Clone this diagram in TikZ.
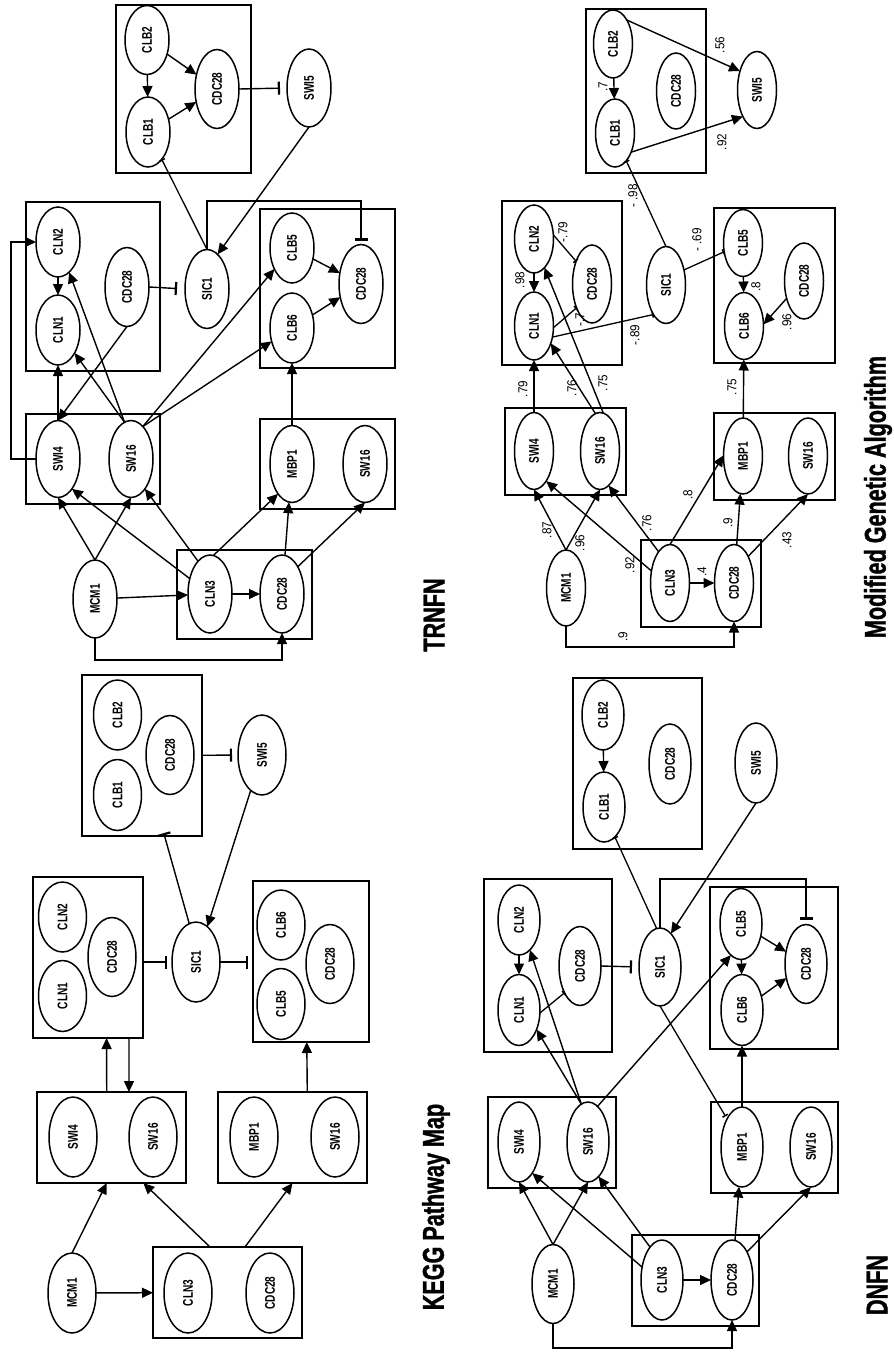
\documentclass[tikz,border=0pt]{standalone}
\usepackage{fontspec}
\setmainfont{Liberation Sans}
\newfontfamily\genefont[FakeStretch=0.72]{Liberation Sans}
\newfontfamily\titlefont[FakeStretch=0.72,FakeBold=1.2]{Liberation Sans}
\newfontfamily\weightfont[FakeStretch=0.9]{Liberation Sans}
\usetikzlibrary{arrows.meta,shapes.geometric}

\begin{document}
\begin{tikzpicture}[x=1pt,y=-1pt,
  gene/.style 2 args={draw,ellipse,line width=1.5pt,minimum width=#1pt,minimum height=#2pt,inner sep=0pt,outer sep=0pt,font=\genefont\bfseries\fontsize{14}{14}\selectfont},
  grp/.style 2 args={draw,rectangle,line width=1.5pt,minimum width=#1pt,minimum height=#2pt,inner sep=0pt,outer sep=0pt},
  act/.style={line width=1.4pt,-{Triangle[length=11pt,width=10pt]}},
  inh/.style={line width=1.4pt,-{Bar[width=13pt,line width=2.2pt]}},
  inhs/.style={line width=1.3pt,-{Bar[width=6pt,line width=1.5pt]}},
  wt/.style={rotate=90,inner sep=0pt,font=\weightfont\fontsize{13}{13}\selectfont},
  ttl/.style={rotate=90,inner sep=0pt,font=\titlefont\bfseries\fontsize{30}{30}\selectfont}]
  \useasboundingbox (0,0) rectangle (894,1352);

  \foreach \nm/\x/\y/\w/\hh in {tboxB/183.5/89/135/168, tboxN/93/286.5/134/169, tboxK/327.5/288.5/135/159,
      tboxS/93/459/134/90, tboxM/327.5/464/135/90, tboxC/244.5/594.5/135/89,
      kboxB/142/755.5/120/161, kboxN/88/957.5/110/161, kboxK/311/961.5/116/161,
      kboxS/111.5/1137.5/149/91, kboxM/292.5/1137.5/149/91, kboxC/227.5/1292.5/149/91,
      mboxB/646/91/120/164, mboxN/562/283/120/164, mboxK/774.5/285.5/121/155,
      mboxS/565.5/451.5/121/87, mboxM/774.5/456.5/121/87, mboxC/701/583.5/120/87,
      dboxB/637.5/763.5/129/171, dboxN/548/965.5/128/173, dboxK/774/968/128/162,
      dboxS/552/1142.5/128/91, dboxM/774.5/1147.5/127/91, dboxC/695.5/1280.5/127/91}
    \node[grp={\w}{\hh}] (\nm) at (\x,\y) {};

  \foreach \nm/\x/\y/\len/\txt in {tCLB2/147/40/69/CLB2, tCLB1/148/132/70/CLB1, tCDCb/217/89/79/CDC28,
      tSWI5/309/88/78/SWI5, tSIC1/207/289/79/SIC1, tCLN2/58/242/70/CLN2, tCDCn/127/287/79/CDC28,
      tCLN1/58/330/70/CLN1, tCLB5/292/248/70/CLB5, tCDCk/361/284/79/CDC28, tCLB6/292/328/70/CLB6,
      tSWI4/58/459/77/SWI4, tSW16/131/459/77/SW16, tMBP1/292/464/77/MBP1, tSW16b/365/464/77/SW16,
      tCLN3/210/594/78/CLN3, tCDC28/282/594/78/CDC28, tMCM1/95/599/78/MCM1}
    \node[gene={44}{\len}] (\nm) at (\x,\y) {\rotatebox{90}{\txt}};
  \foreach \nm/\x/\y/\len/\txt in {kCLB2/117.5/715/70/CLB2, kCLB1/117.5/795/71/CLB1, kCDCb/170/755/79/CDC28,
      kSWI5/262/755/80/SWI5, kSIC1/196/962/80/SIC1, kCLN2/62.5/917/70/CLN2, kCDCn/112/957/79/CDC28,
      kCLN1/62.5/996/71/CLN1, kCLB6/281/925/70/CLB6, kCDCk/330/964/79/CDC28, kCLB5/281/1004/71/CLB5,
      kSWI4/73/1137/80/SWI4, kSW16/153/1137/80/SW16, kMBP1/254/1137/80/MBP1, kSW16b/335/1137/80/SW16,
      kCLN3/188/1293/80/CLN3, kCDC28/270/1293/80/CDC28, kMCM1/72/1293/80/MCM1}
    \node[gene={48}{\len}] (\nm) at (\x,\y) {\rotatebox{90}{\txt}};
  \foreach \nm/\x/\y/\len/\txt in {mCLB2/613/44/68/CLB2, mCLB1/615/133/68/CLB1, mCDCb/676/91/76/CDC28,
      mSWI5/757/90/77/SWI5, mSIC1/666/285/77/SIC1, mCLN2/534/239/68/CLN2, mCDCn/592/284/78/CDC28,
      mCLN1/534/326/68/CLN1, mCLB5/743/243/67/CLB5, mCDCk/804/281/76/CDC28, mCLB6/744/326/67/CLB6,
      mSWI4/534/451/77/SWI4, mSW16/600/451/77/SW16, mMBP1/743/456/76/MBP1, mSW16b/808/456/76/SW16,
      mCLN3/670/583/77/CLN3, mCDC28/734/583/77/CDC28, mMCM1/566/588/76/MCM1}
    \node[gene={39}{\len}] (\nm) at (\x,\y) {\rotatebox{90}{\txt}};
  \foreach \nm/\x/\y/\len/\txt in {dCLB2/603/715/70/CLB2, dCLB1/604/807/70/CLB1, dCDCb/670/764/80/CDC28,
      dSWI5/756/763/80/SWI5, dSIC1/660/967/78/SIC1, dCLN2/519/920/70/CLN2, dCDCn/580/966/79/CDC28,
      dCLN1/519/1010/71/CLN1, dCLB5/741/924/71/CLB5, dCDCk/806/964/79/CDC28, dCLB6/742/1010/71/CLB6,
      dSWI4/519/1142/80/SWI4, dSW16/588/1142/80/SW16, dMBP1/742/1147/80/MBP1, dSW16b/811/1147/80/SW16,
      dCLN3/662/1280/80/CLN3, dCDC28/732/1280/80/CDC28, dMCM1/553/1284/79/MCM1}
    \node[gene={42}{\len}] (\nm) at (\x,\y) {\rotatebox{90}{\txt}};

  \draw[act] (tCLB2) -- (tCLB1);
  \draw[act] (tCLB2) -- (tCDCb);
  \draw[act] (tCLB1) -- (tCDCb);
  \draw[inh,shorten >=7pt] (tCDCb.east) -- (tSWI5.west);
  \draw[act] (tSWI5.south) -- (tSIC1.73);
  \draw[inhs] (tSIC1.north) -- (tCLB1);
  \coordinate (tTurn) at (361,201);
  \draw[inh,shorten >=4pt] (tSIC1.north) |- (tTurn) -- (tCDCk.north);
  \draw[inh,shorten >=8pt] (tCDCn.east) -- (tSIC1.west);
  \draw[act] (tCLN2) -- (tCLN1);
  \draw[act] (tSWI4) -- (tCLN1);
  \coordinate (tLoop) at (11,459);
  \draw[act] (tSWI4.west) -- (tLoop) |- (tCLN2.west);
  \draw[act] (tCDCn.south) -- (tSWI4.north);
  \draw[act] (tSW16.100) -- (tCLN1);
  \draw[act] (tSW16.100) -- (tCLN2);
  \draw[act] (tSW16.70) -- (tCLB5);
  \draw[act] (tSW16.70) -- (tCLB6);
  \draw[act] (tCLB5) -- (tCDCk);
  \draw[act] (tCLB6) -- (tCDCk);
  \draw[act] (tMBP1) -- (tCLB6);
  \draw[act] (tMCM1) -- (tCLN3);
  \draw[act] (tCLN3) -- (tCDC28);
  \draw[act] (tMCM1.north) -- (tSWI4.south);
  \draw[act] (tMCM1.north) -- (tSW16.south);
  \draw[act] (tCLN3) -- (tSWI4.-65);
  \draw[act] (tCLN3.110) -- (tSW16.-65);
  \draw[act] (tCLN3.85) -- (tMBP1.-115);
  \draw[act] (tCDC28) -- (tMBP1);
  \draw[act] (tCDC28.60) -- (tSW16b.south);
  \coordinate (tLow) at (95,660);
  \draw[act] (tMCM1.south) -- (tLow) -| (tCDC28.south);
  \node[ttl] (tTitle) at (434,615) {TRNFN};

  \draw[inh,shorten >=6pt] (kboxB) -- (kSWI5);
  \draw[act] (kSWI5) -- (kSIC1);
  \draw[inh,shorten >=-3pt] (kSIC1.100) -- (kboxB);
  \draw[inh,shorten >=5pt] (kSIC1.west -| kboxN.east) -- (kSIC1.west);
  \draw[inh,shorten >=5pt] (kSIC1.east) -- (kSIC1.east -| kboxK.west);
  \draw[act] (kboxS.96) -- (kboxN.-77);
  \draw[act] (kboxN.-63) -- (kboxS.69);
  \draw[act] (kboxM.72) -- (kboxK.-93);
  \draw[act] (kMCM1) -- (kboxC);
  \draw[act] (kMCM1.north) -- (kboxS.-96);
  \draw[act] (kboxC.111) -- (kboxS.-55);
  \draw[act] (kboxC.69) -- (kboxM.south);
  \node[ttl] (kTitle) at (436,1207) {KEGG Pathway Map};

  \draw[act] (mCLB2) -- (mCLB1);
  \draw[act] (mCLB2.60) -- (mSWI5.132);
  \draw[act] (mCLB1.-50) -- (mSWI5.-118);
  \draw[inhs] (mSIC1.north) -- (mCLB1.-68);
  \draw[inhs] (mCLN2.12) -- (mCDCn.125);
  \draw[act] (mCLN2) -- (mCLN1);
  \draw[inhs] (mCLN1.-5) -- (mCDCn.-123);
  \draw[inhs] (mCLN1.-31) -- (mSIC1.-113);
  \draw[inhs] (mSIC1.40) -- (mCLB5.-155);
  \draw[act] (mCLB5) -- (mCLB6);
  \draw[act] (mCDCk.-135) -- (mCLB6.5);
  \draw[act] (mSWI4) -- (mCLN1);
  \draw[act] (mSW16.97) -- (mCLN1.-46);
  \draw[act] (mSW16.85) -- (mCLN2.-70);
  \draw[act] (mMBP1) -- (mCLB6);
  \draw[act] (mMCM1.north) -- (mSWI4.south);
  \draw[act] (mMCM1.north) -- (mSW16.south);
  \draw[act] (mCLN3.147) -- (mSWI4.-68);
  \draw[act] (mCLN3.110) -- (mSW16.-76);
  \draw[act] (mCLN3.north) -- (mMBP1.178);
  \draw[act] (mCLN3) -- (mCDC28);
  \draw[act] (mCDC28) -- (mMBP1);
  \draw[act] (mCDC28.62) -- (mSW16b.south);
  \coordinate (mLow) at (566,647);
  \draw[act] (mMCM1.south) -- (mLow) -| (mCDC28.south);
  \foreach \nm/\x/\y/\txt in {mw1/720/45/.56, mw2/722/142/.92, mw3/603/87/.7, mw4/633/196/- .98,
      mw5/563/232/-.79, mw6/520/280/.98, mw7/580/320/-.7, mw8/635/335/-.89, mw9/697/240/- .69,
      mw10/756/287/.8, mw11/787/322/.96, mw12/523/389/.79, mw13/572/388/.76, mw14/603/383/.75,
      mw15/732/387/.75, mw16/547/530/.87, mw17/580/543/.96, mw18/630/565/.92, mw19/647/523/.76,
      mw20/688/495/.8, mw21/702/572/.4, mw22/728/523/.9, mw23/787/540/.43, mw24/623/637/.9}
    \node[wt] (\nm) at (\x,\y) {\txt};
  \node[ttl] (mTitle) at (878,497) {Modified Genetic Algorithm};

  \draw[act] (dCLB2) -- (dCLB1);
  \draw[act] (dSWI5.south) -- (dSIC1.72);
  \draw[inhs] (dSIC1.95) -- (dCLB1.-70);
  \coordinate (dTurn) at (806,879);
  \draw[inh,shorten >=5pt] (dSIC1.north) |- (dTurn) -- (dCDCk.north);
  \draw[inh,shorten >=7pt] (dCDCn.east) -- (dSIC1.west);
  \draw[act] (dCLN2) -- (dCLN1);
  \draw[inhs] (dCLN1.-8) -- (dCDCn.-120);
  \draw[inhs,shorten >=3pt] (dSIC1.south) -- (dMBP1.118);
  \draw[act] (dCLB5) -- (dCDCk);
  \draw[act] (dCLB5) -- (dCLB6);
  \draw[act] (dCLB6) -- (dCDCk);
  \draw[act] (dSW16.100) -- (dCLN1.-48);
  \draw[act] (dSW16.100) -- (dCLN2.-70);
  \draw[act] (dSW16.75) -- (dCLB5.-108);
  \draw[act] (dMBP1) -- (dCLB6);
  \draw[act] (dMCM1.north) -- (dSWI4.south);
  \draw[act] (dMCM1.north) -- (dSW16.south);
  \draw[act] (dCLN3.147) -- (dSWI4.-67);
  \draw[act] (dCLN3.110) -- (dSW16.-73);
  \draw[act] (dCLN3) -- (dCDC28);
  \draw[act] (dCDC28) -- (dMBP1);
  \draw[act] (dCDC28.62) -- (dSW16b.south);
  \coordinate (dLow) at (553,1348);
  \draw[act] (dMCM1.south) -- (dLow) -| (dCDC28.south);
  \node[ttl] (dTitle) at (877,1285) {DNFN};
\end{tikzpicture}
\end{document}
